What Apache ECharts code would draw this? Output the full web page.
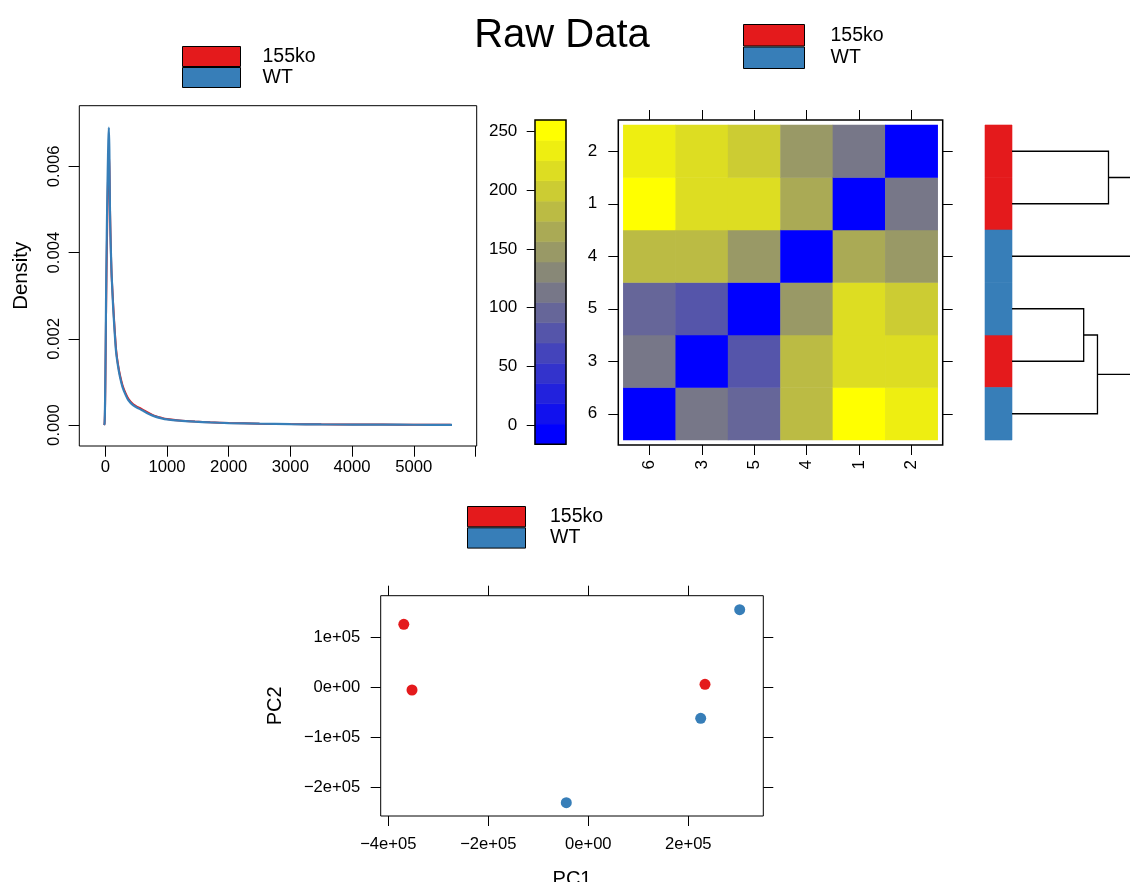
<!DOCTYPE html>
<html><head><meta charset="utf-8">
<script src="https://cdn.jsdelivr.net/npm/echarts@6/dist/echarts.min.js"></script>
<style>html,body{margin:0;padding:0;background:#fff}#c{width:1130px;height:882px}</style>
</head><body><div id="c"></div>
<script>
// ---------- shared ----------
const groups = ['155ko', 'WT'];
const groupColors = ['#E41A1C', '#377EB8'];
const samples = ['1', '2', '3', '4', '5', '6'];
const sampleGroup = ['155ko', '155ko', '155ko', 'WT', 'WT', 'WT'];

// ---------- density panel ----------
const dens155ko = [[-20,0],[-12,0.00003],[-6,0.00025],[0,0.0008],[6,0.0016],[12,0.0025],[20,0.0035],[30,0.0045],[40,0.0054],[50,0.006],[60,0.0063],[68,0.0059],[78,0.0049],[90,0.0041],[102,0.0035],[117,0.0031],[132,0.0027],[152,0.00223],[177,0.00173],[207,0.0014],[240,0.00115],[282,0.00091],[332,0.00073],[375,0.00061],[452,0.00048],[522,0.00042],[592,0.00037],[702,0.00028],[802,0.00021],[916,0.000165],[1000,0.00014],[1200,0.000105],[1454,0.00008],[1700,0.000063],[2000,0.000048],[2500,0.000032],[3000,0.000021],[3500,0.000015],[4000,0.000011],[4500,0.000009],[5000,0.000007],[5600,0.000004]];
const densWT = [[-20,0],[-12,0.00003],[-6,0.0003],[0,0.0009],[6,0.0018],[12,0.0028],[20,0.0039],[30,0.005],[40,0.0059],[50,0.0066],[58,0.0069],[66,0.0064],[76,0.005],[88,0.0042],[100,0.0036],[115,0.0031],[130,0.00267],[150,0.0022],[175,0.0017],[205,0.00138],[238,0.00112],[280,0.00088],[330,0.0007],[373,0.00058],[450,0.00046],[520,0.0004],[590,0.00035],[700,0.00026],[800,0.0002],[914,0.000155],[1000,0.00013],[1200,0.0001],[1454,0.000077],[1700,0.00006],[2000,0.000045],[2500,0.00003],[3000,0.00002],[3500,0.000014],[4000,0.00001],[4500,0.000008],[5000,0.000006],[5620,0.000004]];
const densXTicks = [0, 1000, 2000, 3000, 4000, 5000, 6000];
const densXLabels = [0, 1000, 2000, 3000, 4000, 5000];
const densYTicks = [0, 0.002, 0.004, 0.006];

// ---------- heatmap panel ----------
const heatOrder = ['6', '3', '5', '4', '1', '2']; // left-to-right and bottom-to-top
const distA = ['1','1','1','1','1','2','2','2','2','3','3','3','4','4','5'];
const distB = ['2','3','4','5','6','3','4','5','6','4','5','6','5','6','6'];
const distV = [105,216,165,216,251,216,147,199,234,182,78,113,147,182,93];
const keyBreaks = [-16.4,0.86,18.1,35.4,52.6,69.9,87.2,104.4,121.7,138.9,156.2,173.5,190.7,208.0,225.2,242.5,259.8];
const keyColors = ['#0000FF','#1111EE','#2222DD','#3333CC','#4444BB','#5555AA','#666699','#777788','#888877','#999966','#AAAA55','#BBBB44','#CCCC33','#DDDD22','#EEEE11','#FFFF00'];
const keyTicks = [0, 50, 100, 150, 200, 250];

// ---------- dendrogram ----------
const mergeA = ['5', 'M1', '2', 'M3', 'M4'];
const mergeB = ['3', '6', '1', '4', 'M2'];
const mergeH = [78, 93, 105, 147, 150];

// ---------- PCA panel ----------
const pc1_155ko = [-369000, -352600, 233400];
const pc2_155ko = [126800, -4600, 6800];
const pc1_WT = [302800, 224800, -44000];
const pc2_WT = [156000, -61200, -230000];
const pcaXTicks = [-4e5, -2e5, 0, 2e5];
const pcaXLabels = ['\u22124e+05', '\u22122e+05', '0e+00', '2e+05'];
const pcaYTicks = [-2e5, -1e5, 0, 1e5];
const pcaYLabels = ['\u22122e+05', '\u22121e+05', '0e+00', '1e+05'];

// ---------- build ----------
const FONT = 'Liberation Sans';
const BLACK = '#000';
function dist(a, b) {
  if (a === b) return 0;
  for (let i = 0; i < distA.length; i++) {
    if ((distA[i] === a && distB[i] === b) || (distA[i] === b && distB[i] === a)) return distV[i];
  }
  return 0;
}
const heatData = [];
heatOrder.forEach((cx, i) => heatOrder.forEach((cy, j) => heatData.push([i, j, dist(cx, cy)])));

const nodes = {};
samples.forEach(s => { nodes[s] = { y: heatOrder.indexOf(s), h: 0 }; });
mergeH.forEach((h, i) => {
  const a = nodes[mergeA[i]], b = nodes[mergeB[i]];
  nodes['M' + (i + 1)] = { y: (a.y + b.y) / 2, h: h };
});

function hiddenAxis(gi, min, max) {
  return { gridIndex: gi, type: 'value', min: min, max: max, show: false };
}
const tickStyle = { color: BLACK, width: 1 };
const noLine = { show: false, onZero: false };
function gridBox(o) { return Object.assign({ outerBoundsMode: 'none', containLabel: false }, o); }

const legendBase = {
  orient: 'vertical', icon: 'rect', itemGap: 0, padding: 0, selectedMode: false,
  data: groups,
  itemStyle: { borderColor: BLACK, borderWidth: 1 }
};

const option = {
  animation: false,
  backgroundColor: '#fff',
  textStyle: { fontFamily: FONT, color: BLACK },
  title: {
    text: 'Raw Data', left: 557, textAlign: 'center', top: 11,
    textStyle: { fontFamily: FONT, fontSize: 40, fontWeight: 'normal', color: BLACK }
  },
  legend: [
    Object.assign({}, legendBase, { left: 182, top: 46, itemWidth: 58, itemHeight: 20,
      textStyle: { fontFamily: FONT, fontSize: 19.5, color: BLACK, padding: [0, 0, 0, 17] } }),
    Object.assign({}, legendBase, { left: 743, top: 24, itemWidth: 61, itemHeight: 21.5,
      textStyle: { fontFamily: FONT, fontSize: 19.5, color: BLACK, padding: [0, 0, 0, 21] } }),
    Object.assign({}, legendBase, { left: 467, top: 506, itemWidth: 58, itemHeight: 20.3,
      textStyle: { fontFamily: FONT, fontSize: 19.5, color: BLACK, padding: [0, 0, 0, 19.5] } })
  ],
  grid: [
    gridBox({ left: 79.3, top: 105.7, width: 397.4, height: 340.3, show: true, borderColor: BLACK, borderWidth: 1 }),
    gridBox({ left: 535, top: 120, width: 31, height: 324.3 }),
    gridBox({ left: 623.3, top: 125, width: 314.4, height: 315 }),
    gridBox({ left: 618.3, top: 120, width: 324.4, height: 325, show: true, borderColor: BLACK, borderWidth: 1.5 }),
    gridBox({ left: 985, top: 125, width: 27, height: 315 }),
    gridBox({ left: 1012, top: 125, width: 118, height: 315 }),
    gridBox({ left: 380.7, top: 595.7, width: 382.6, height: 220.3, show: true, borderColor: BLACK, borderWidth: 1 })
  ],
  xAxis: [
    { gridIndex: 0, type: 'value', min: -421, max: 6020, position: 'bottom',
      axisLine: noLine,
      axisTick: { show: true, customValues: densXTicks, length: 10.7, lineStyle: tickStyle },
      axisLabel: { customValues: densXLabels, fontSize: 16.7, color: BLACK, margin: 13, fontFamily: FONT,
        formatter: v => String(v) },
      splitLine: { show: false } },
    hiddenAxis(1, 0, 1),
    { gridIndex: 2, type: 'category', data: heatOrder, offset: 5, position: 'bottom',
      axisLine: noLine,
      axisTick: { show: true, alignWithLabel: true, length: 10, lineStyle: tickStyle },
      axisLabel: { interval: 0, rotate: 90, fontSize: 17, color: BLACK, margin: 15, fontFamily: FONT },
      splitLine: { show: false } },
    { gridIndex: 2, type: 'category', data: heatOrder, offset: 5, position: 'top',
      axisLine: noLine,
      axisTick: { show: true, alignWithLabel: true, length: 10, lineStyle: tickStyle },
      axisLabel: { show: false }, splitLine: { show: false } },
    hiddenAxis(3, 0, 1),
    hiddenAxis(4, 0, 1),
    hiddenAxis(5, 0, 128.4),
    { gridIndex: 6, type: 'value', min: -415200, max: 350000, position: 'bottom',
      name: 'PC1', nameLocation: 'middle', nameGap: 53,
      nameTextStyle: { fontSize: 20, color: BLACK, fontFamily: FONT },
      axisLine: noLine,
      axisTick: { show: true, customValues: pcaXTicks, length: 10, lineStyle: tickStyle },
      axisLabel: { customValues: pcaXTicks, fontSize: 16.6, color: BLACK, margin: 20, fontFamily: FONT,
        formatter: v => pcaXLabels[pcaXTicks.indexOf(v)] },
      splitLine: { show: false } },
    { gridIndex: 6, type: 'value', min: -415200, max: 350000, position: 'top',
      axisLine: noLine,
      axisTick: { show: true, customValues: pcaXTicks, length: 10, lineStyle: tickStyle },
      axisLabel: { show: false }, splitLine: { show: false } }
  ],
  yAxis: [
    { gridIndex: 0, type: 'value', min: -0.000487, max: 0.007408, position: 'left',
      name: 'Density', nameLocation: 'middle', nameGap: 48, nameRotate: 90,
      nameTextStyle: { fontSize: 20.4, color: BLACK, fontFamily: FONT },
      axisLine: noLine,
      axisTick: { show: true, customValues: densYTicks, length: 10.7, lineStyle: tickStyle },
      axisLabel: { customValues: densYTicks, rotate: 90, fontSize: 16.7, color: BLACK, margin: 16, fontFamily: FONT,
        formatter: v => v.toFixed(3) },
      splitLine: { show: false } },
    { gridIndex: 1, type: 'value', min: keyBreaks[0], max: keyBreaks[keyBreaks.length - 1],
      axisLine: noLine,
      axisTick: { show: true, customValues: keyTicks, length: 8.3, lineStyle: tickStyle },
      axisLabel: { customValues: keyTicks, fontSize: 17, color: BLACK, margin: 17.7, fontFamily: FONT },
      splitLine: { show: false } },
    { gridIndex: 2, type: 'category', data: heatOrder, offset: 5, position: 'left',
      axisLine: noLine,
      axisTick: { show: true, alignWithLabel: true, length: 10, lineStyle: tickStyle },
      axisLabel: { interval: 0, fontSize: 17, color: BLACK, margin: 21, fontFamily: FONT },
      splitLine: { show: false } },
    { gridIndex: 2, type: 'category', data: heatOrder, offset: 5, position: 'right',
      axisLine: noLine,
      axisTick: { show: true, alignWithLabel: true, length: 10, lineStyle: tickStyle },
      axisLabel: { show: false }, splitLine: { show: false } },
    hiddenAxis(3, 0, 1),
    hiddenAxis(4, -0.5, heatOrder.length - 0.5),
    hiddenAxis(5, -0.5, heatOrder.length - 0.5),
    { gridIndex: 6, type: 'value', min: -256600, max: 184000, position: 'left',
      name: 'PC2', nameLocation: 'middle', nameGap: 95, nameRotate: 90,
      nameTextStyle: { fontSize: 20, color: BLACK, fontFamily: FONT },
      axisLine: noLine,
      axisTick: { show: true, customValues: pcaYTicks, length: 10, lineStyle: tickStyle },
      axisLabel: { customValues: pcaYTicks, fontSize: 16.6, color: BLACK, margin: 20.5, fontFamily: FONT,
        formatter: v => pcaYLabels[pcaYTicks.indexOf(v)] },
      splitLine: { show: false } },
    { gridIndex: 6, type: 'value', min: -256600, max: 184000, position: 'right',
      axisLine: noLine,
      axisTick: { show: true, customValues: pcaYTicks, length: 10, lineStyle: tickStyle },
      axisLabel: { show: false }, splitLine: { show: false } }
  ],
  visualMap: [{
    type: 'piecewise', show: false, seriesIndex: 4, dimension: 2,
    pieces: keyColors.map((c, k) => ({ gte: keyBreaks[k], lt: keyBreaks[k + 1], color: c }))
  }],
  series: [
    { name: '155ko', type: 'line', xAxisIndex: 0, yAxisIndex: 0, data: dens155ko, showSymbol: false,
      smooth: 0.25, color: groupColors[0], lineStyle: { width: 2, color: groupColors[0] }, z: 3 },
    { name: 'WT', type: 'line', xAxisIndex: 0, yAxisIndex: 0, data: densWT, showSymbol: false,
      smooth: 0.25, color: groupColors[1], lineStyle: { width: 2.2, color: groupColors[1] }, z: 4 },
    { name: 'colorkey', type: 'custom', xAxisIndex: 1, yAxisIndex: 1,
      data: keyColors.map((c, k) => [0, keyBreaks[k], keyBreaks[k + 1], k]),
      renderItem: (params, api) => {
        const p0 = api.coord([0, api.value(1)]), p1 = api.coord([1, api.value(2)]);
        const c = keyColors[api.value(3)];
        return { type: 'rect', shape: { x: p0[0], y: p1[1], width: p1[0] - p0[0], height: p0[1] - p1[1] },
          style: { fill: c, stroke: c, lineWidth: 0.6 } };
      } },
    { name: 'colorkeyFrame', type: 'custom', xAxisIndex: 1, yAxisIndex: 1, z: 5,
      data: [[0, keyBreaks[0], keyBreaks[keyBreaks.length - 1]]],
      renderItem: (params, api) => {
        const p0 = api.coord([0, api.value(1)]), p1 = api.coord([1, api.value(2)]);
        return { type: 'rect', shape: { x: p0[0], y: p1[1], width: p1[0] - p0[0], height: p0[1] - p1[1] },
          style: { fill: null, stroke: BLACK, lineWidth: 1.5 } };
      } },
    { name: 'distance', type: 'heatmap', xAxisIndex: 2, yAxisIndex: 2, data: heatData,
      itemStyle: { borderWidth: 0 } },
    { name: 'groups', type: 'custom', xAxisIndex: 5, yAxisIndex: 5,
      data: samples.map((s, i) => [0, heatOrder.indexOf(s), groups.indexOf(sampleGroup[i])]),
      renderItem: (params, api) => {
        const r = api.value(1);
        const p0 = api.coord([0, r - 0.5]), p1 = api.coord([1, r + 0.5]);
        const c = groupColors[api.value(2)];
        return { type: 'rect', shape: { x: p0[0], y: p1[1], width: p1[0] - p0[0], height: p0[1] - p1[1] },
          style: { fill: c, stroke: c, lineWidth: 0.6 } };
      } },
    { name: 'dendrogram', type: 'custom', xAxisIndex: 6, yAxisIndex: 6, clip: true,
      data: mergeH.map((h, i) => [h, i]),
      renderItem: (params, api) => {
        const i = params.dataIndex;
        const a = nodes[mergeA[i]], b = nodes[mergeB[i]], h = mergeH[i];
        const pts = [[a.h, a.y], [h, a.y], [h, b.y], [b.h, b.y]].map(p => api.coord(p));
        return { type: 'polyline', shape: { points: pts }, style: { stroke: BLACK, lineWidth: 1.3, fill: null } };
      } },
    { name: '155ko', type: 'scatter', xAxisIndex: 7, yAxisIndex: 7, symbolSize: 11,
      color: groupColors[0], itemStyle: { opacity: 1 },
      data: pc1_155ko.map((x, i) => [x, pc2_155ko[i]]) },
    { name: 'WT', type: 'scatter', xAxisIndex: 7, yAxisIndex: 7, symbolSize: 11,
      color: groupColors[1], itemStyle: { opacity: 1 },
      data: pc1_WT.map((x, i) => [x, pc2_WT[i]]) }
  ]
};
const chart = echarts.init(document.getElementById('c'), null, { renderer: 'canvas' });
chart.setOption(option);
</script>
</body></html>
